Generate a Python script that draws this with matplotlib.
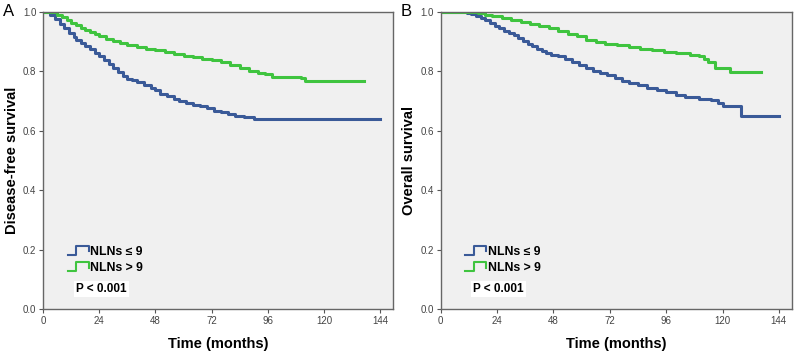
import numpy as np
import matplotlib
matplotlib.use("Agg")
import matplotlib.pyplot as plt

# ---- data (Kaplan-Meier steps) ----
dfs_t_low = [0, 3, 5, 7, 9, 11, 13, 14, 16, 18, 20, 22, 24, 26, 28, 30, 32, 34, 36, 38, 40, 43, 46, 48, 50, 53, 56, 58, 61, 64, 67, 70, 73, 76, 79, 82, 86, 90, 144]
dfs_s_low = [1.0, 0.99, 0.975, 0.96, 0.945, 0.93, 0.915, 0.905, 0.895, 0.885, 0.875, 0.86, 0.85, 0.838, 0.825, 0.81, 0.798, 0.785, 0.775, 0.77, 0.765, 0.755, 0.745, 0.736, 0.725, 0.716, 0.706, 0.7, 0.695, 0.688, 0.683, 0.675, 0.668, 0.662, 0.655, 0.65, 0.645, 0.64, 0.64]
dfs_t_high = [0, 6, 8, 10, 12, 14, 16, 18, 20, 22, 24, 27, 30, 33, 36, 40, 44, 48, 52, 56, 60, 64, 68, 72, 76, 80, 84, 88, 92, 95, 98, 104, 110, 112, 137]
dfs_s_high = [1.0, 0.99, 0.982, 0.972, 0.963, 0.955, 0.947, 0.94, 0.933, 0.926, 0.918, 0.91, 0.902, 0.895, 0.89, 0.882, 0.876, 0.87, 0.864, 0.858, 0.853, 0.848, 0.843, 0.838, 0.832, 0.822, 0.812, 0.802, 0.793, 0.79, 0.782, 0.782, 0.778, 0.767, 0.767]

os_t_low = [0, 11, 13, 15, 17, 19, 21, 23, 25, 27, 29, 31, 33, 35, 37, 39, 41, 43, 45, 47, 50, 53, 56, 59, 62, 65, 68, 71, 74, 77, 80, 84, 88, 92, 96, 100, 104, 110, 115, 118, 120, 128, 144]
os_s_low = [1.0, 0.997, 0.993, 0.987, 0.98, 0.972, 0.962, 0.952, 0.945, 0.937, 0.93, 0.922, 0.912, 0.902, 0.893, 0.885, 0.876, 0.868, 0.862, 0.856, 0.85, 0.842, 0.83, 0.82, 0.81, 0.8, 0.795, 0.788, 0.778, 0.768, 0.76, 0.755, 0.745, 0.738, 0.73, 0.72, 0.713, 0.707, 0.704, 0.695, 0.683, 0.648, 0.648]
os_t_high = [0, 16, 19, 22, 26, 30, 34, 38, 42, 46, 50, 54, 58, 62, 66, 70, 75, 80, 85, 90, 95, 100, 106, 110, 112, 114, 117, 123, 136.5]
os_s_high = [1.0, 0.995, 0.99, 0.985, 0.979, 0.973, 0.967, 0.96, 0.953, 0.945, 0.935, 0.925, 0.918, 0.905, 0.897, 0.893, 0.888, 0.882, 0.876, 0.87, 0.865, 0.86, 0.856, 0.853, 0.843, 0.83, 0.81, 0.798, 0.798]

xticks = [0, 24, 48, 72, 96, 120, 144]
yticks = [0.0, 0.2, 0.4, 0.6, 0.8, 1.0]
group_labels = ["NLNs \u2264 9", "NLNs > 9"]
p_text = "P < 0.001"

blue = "#3a5a98"
green = "#3fc43f"

plt.rcParams['font.family'] = ['Liberation Sans', 'DejaVu Sans']

fig = plt.figure(figsize=(8, 3.59), dpi=100)
axA = fig.add_axes([0.054, 0.139, 0.4375, 0.828])
axB = fig.add_axes([0.551, 0.139, 0.439, 0.828])

panels = [
    (axA, "A", "Disease-free survival", dfs_t_low, dfs_s_low, dfs_t_high, dfs_s_high),
    (axB, "B", "Overall survival", os_t_low, os_s_low, os_t_high, os_s_high),
]

for ax, letter, ylab, t1, s1, t2, s2 in panels:
    ax.set_facecolor("#f0f0f0")
    ax.step(t1, s1, where='post', color=blue, lw=2.2)
    ax.step(t2, s2, where='post', color=green, lw=2.2)
    ax.set_xlim(0, 149.6)
    ax.set_ylim(0, 1.0)
    ax.set_xticks(xticks)
    ax.set_yticks(yticks)
    ax.set_xticklabels([str(v) for v in xticks])
    ax.set_yticklabels(["%.1f" % v for v in yticks])
    ax.tick_params(labelsize=7, labelcolor="#444444", length=3, color="#555555", width=0.8, pad=2)
    for sp in ax.spines.values():
        sp.set_color("#666666")
        sp.set_linewidth(1.0)
    ax.set_xlabel("Time (months)", fontsize=10.5, fontweight='bold', labelpad=8)
    ax.set_ylabel(ylab, fontsize=10.5, fontweight='bold', labelpad=3)
    ax.text(-0.115, 1.0, letter, transform=ax.transAxes, fontsize=12, va='center', ha='left')

    # legend with step icons
    for i, (col, lab) in enumerate(zip([blue, green], group_labels)):
        y0 = 0.2 - 0.055 * i - 0.018
        xs = [0.07, 0.095, 0.095, 0.13, 0.13]
        ys = [y0, y0, y0 + 0.03, y0 + 0.03, y0 + 0.012]
        ax.plot(xs, ys, color=col, lw=1.5, transform=ax.transAxes, clip_on=False)
        ax.text(0.135, y0 + 0.01, lab, transform=ax.transAxes, fontsize=8.8,
                fontweight='bold', va='center', ha='left')
    ax.text(0.093, 0.067, p_text, transform=ax.transAxes, fontsize=8.5, fontweight='bold',
            va='center', ha='left', bbox=dict(facecolor='white', edgecolor='none', pad=1.5))

fig.savefig("out.png", dpi=100)
